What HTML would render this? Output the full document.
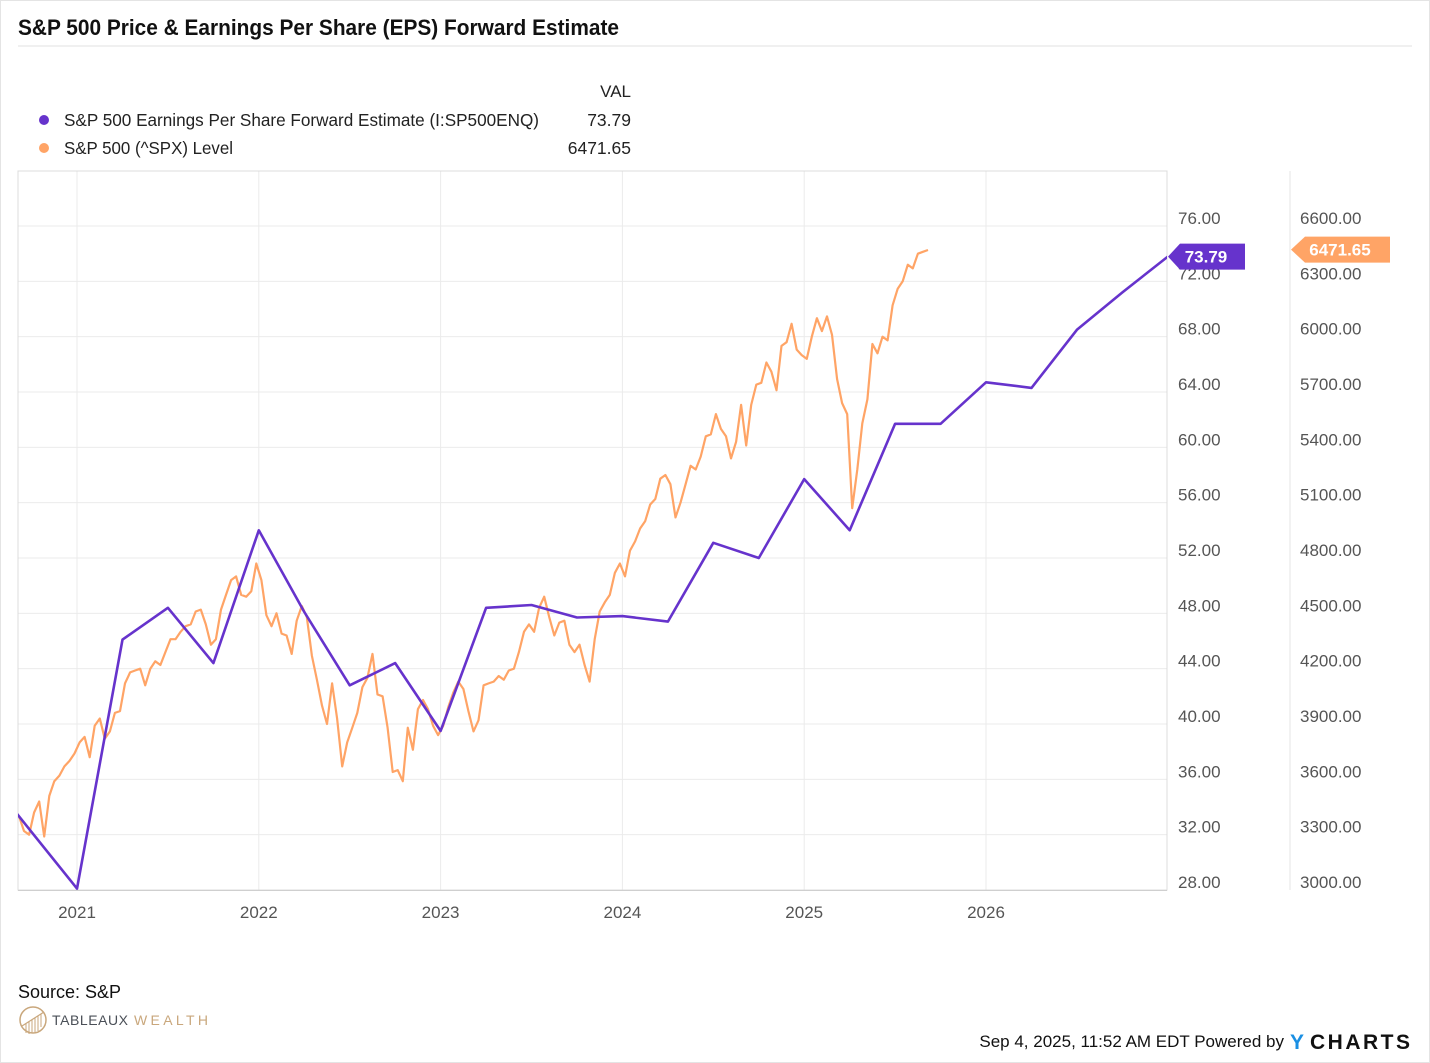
<!DOCTYPE html>
<html><head><meta charset="utf-8">
<style>
html,body{margin:0;padding:0;background:#fff;}
svg{display:block;font-family:"Liberation Sans",sans-serif;}
</style></head>
<body>
<svg id="chart" width="1430" height="1063" viewBox="0 0 1430 1063" xmlns="http://www.w3.org/2000/svg">
<rect x="0.5" y="0.5" width="1429" height="1062" fill="#fff" stroke="#e4e4e4"/>
<text x="18" y="35" font-size="22" font-weight="bold" fill="#111" textLength="601" lengthAdjust="spacingAndGlyphs">S&amp;P 500 Price &amp; Earnings Per Share (EPS) Forward Estimate</text>
<line x1="18" y1="46" x2="1412" y2="46" stroke="#e0e0e0"/>
<g>
<text x="631" y="97" font-size="17" fill="#222" text-anchor="end">VAL</text>
<g>
<circle cx="44" cy="120" r="5" fill="#6633cc"/>
<text x="64" y="126" font-size="17.5" fill="#222" textLength="475" lengthAdjust="spacingAndGlyphs">S&amp;P 500 Earnings Per Share Forward Estimate (I:SP500ENQ)</text>
<text x="631" y="126" font-size="17.5" fill="#222" text-anchor="end">73.79</text>
</g>
<g>
<circle cx="44" cy="148" r="5" fill="#ffa466"/>
<text x="64" y="154" font-size="17.5" fill="#222" textLength="169" lengthAdjust="spacingAndGlyphs">S&amp;P 500 (^SPX) Level</text>
<text x="631" y="154" font-size="17.5" fill="#222" text-anchor="end">6471.65</text>
</g>
</g>
<g id="grid"></g>
<g id="axes"></g>
<defs><clipPath id="plotclip"><rect x="18" y="171" width="1149" height="721"/></clipPath></defs>
<g id="series" clip-path="url(#plotclip)"></g>
<g id="callouts"></g>
<text x="18" y="998" font-size="18" fill="#111">Source: S&amp;P</text>
<g>
<circle cx="33" cy="1020" r="13" fill="none" stroke="#c9a77c" stroke-width="1.5"/>
<path d="M22,1026 L44,1012" stroke="#c9a77c" stroke-width="1.2"/>
<path d="M26,1024 v9 M29,1022 v12 M32,1020 v13 M35,1018 v14 M38,1016 v15 M41,1014 v13" stroke="#c9a77c" stroke-width="1"/>
<text x="52" y="1025" font-size="14" fill="#4a4f57" textLength="76" lengthAdjust="spacing">TABLEAUX</text>
<text x="134" y="1025" font-size="14" fill="#c9a77c" textLength="74" lengthAdjust="spacing">WEALTH</text>
</g>
<text x="1284" y="1047" font-size="17" fill="#111" text-anchor="end">Sep 4, 2025, 11:52 AM EDT Powered by</text>
<g>
<text x="1290" y="1049" font-size="21" font-weight="bold" fill="#1a8fe3" letter-spacing="2">Y</text>
<text x="1310" y="1049" font-size="21" font-weight="bold" fill="#111" letter-spacing="2.5">CHARTS</text>
</g>
</svg>
<script>
const NS="http://www.w3.org/2000/svg";
const yearTicks=[2021,2022,2023,2024,2025,2026];
const epsTicks=[28,32,36,40,44,48,52,56,60,64,68,72,76];
const spxTicks=[3000,3300,3600,3900,4200,4500,4800,5100,5400,5700,6000,6300,6600];
const epsStart=2020.5;
const epsValues=[36.3,32.2,28.1,46.1,48.4,44.4,54.0,48.1,42.8,44.4,39.5,48.4,48.6,47.7,47.8,47.4,53.1,52.0,57.7,54.0,61.7,61.7,64.7,64.3,68.5,71.2,73.79];
const spxStart=2020.667;
const spxValues=[3400,3320,3300,3420,3480,3290,3510,3590,3620,3670,3700,3740,
3800,3830,3720,3890,3930,3820,3860,3960,3970,4120,4180,4190,4200,4110,4200,4240,4220,4290,4360,4360,4400,4430,4440,4510,4520,4440,4330,4360,4520,4600,4680,4700,4600,4590,4620,4770,
4680,4490,4430,4500,4390,4380,4280,4460,4540,4480,4270,4140,4000,3900,4120,3930,3670,3800,3880,3960,4100,4150,4280,4060,4050,3880,3640,3650,3590,3880,3760,3980,4030,3980,3890,3840,
3890,3990,4070,4130,4090,3970,3860,3920,4110,4120,4130,4160,4140,4190,4200,4290,4400,4440,4400,4530,4590,4480,4380,4450,4460,4330,4290,4330,4220,4130,4360,4510,4560,4600,4720,4770,
4700,4840,4890,4960,5000,5090,5120,5230,5250,5200,5020,5100,5200,5300,5280,5350,5460,5470,5580,5500,5460,5340,5430,5630,5410,5630,5740,5750,5860,5810,5710,5950,5970,6070,5930,5900,
5880,6000,6100,6030,6110,6010,5770,5640,5580,5070,5280,5530,5660,5960,5910,6000,5980,6170,6260,6300,6390,6370,6450,6460,6470];
const X0=18,X1=1167,Y0=171,YB=890;
function xS(t){return 77+(t-2021)*181.8;}
function yEps(v){return YB-(v-28)*(664/48);}
function ySpx(v){return YB-(v-3000)*(664/3600);}
function mk(tag,attrs,parent){const e=document.createElementNS(NS,tag);for(const k in attrs)e.setAttribute(k,attrs[k]);parent.appendChild(e);return e;}
const grid=document.getElementById('grid'),axes=document.getElementById('axes'),series=document.getElementById('series'),call=document.getElementById('callouts');
epsTicks.forEach(v=>{
  const y=yEps(v);
  if(v>28){const l=mk('line',{x1:X0,x2:X1,y1:y,y2:y,stroke:'#ebebeb'},grid);
  
  }
  const t=mk('text',{x:1178,y:y-2,'font-size':17,fill:'#555'},axes);t.textContent=v.toFixed(2);
  
  
});
spxTicks.forEach(v=>{
  const t=mk('text',{x:1300,y:ySpx(v)-2,'font-size':17,fill:'#555'},axes);t.textContent=v.toFixed(2);
  
  
});
yearTicks.forEach(yr=>{
  const x=xS(yr);
  const l=mk('line',{x1:x,x2:x,y1:Y0,y2:YB,stroke:'#ebebeb'},grid);
  
  
  const t=mk('text',{x:x,y:918,'font-size':17,fill:'#555','text-anchor':'middle'},axes);t.textContent=yr;
  
  
});
mk('path',{d:`M${X0},${Y0}H${X1}V${YB}H${X0}Z`,fill:'none',stroke:'#dcdcdc'},axes);
mk('line',{x1:1290,x2:1290,y1:Y0,y2:YB,stroke:'#e6e6e6'},axes);
mk('line',{x1:X0,x2:X1,y1:YB+0.5,y2:YB+0.5,stroke:'#cfcfcf'},axes);
let d='';
spxValues.forEach((v,i)=>{const x=xS(spxStart+(i+0.5)/36),y=ySpx(v);d+=(i?'L':'M')+x.toFixed(1)+','+y.toFixed(1);});
const sp=mk('path',{d:d,fill:'none',stroke:'#ffa466','stroke-width':2.2,'stroke-linejoin':'round'},series);


d='';
epsValues.forEach((v,i)=>{const x=xS(epsStart+i*0.25),y=yEps(v);d+=(i?'L':'M')+x.toFixed(1)+','+y.toFixed(1);});
const ep=mk('path',{d:d,fill:'none',stroke:'#6633cc','stroke-width':2.6,'stroke-linejoin':'round'},series);


const ev=epsValues[epsValues.length-1],ey=yEps(ev);
const pc=mk('path',{d:`M1168,${ey} L1180,${ey-13} H1245 V${ey+13} H1180 Z`,fill:'#6633cc'},call);


const pt=mk('text',{x:1206,y:ey+6,'font-size':17,'font-weight':'bold',fill:'#fff','text-anchor':'middle'},call);pt.textContent=ev.toFixed(2);
const sv=6471.65,sy=ySpx(sv);
const oc=mk('path',{d:`M1291,${sy} L1305,${sy-13} H1390 V${sy+13} H1305 Z`,fill:'#ffa466'},call);


const ot=mk('text',{x:1340,y:sy+6,'font-size':17,'font-weight':'bold',fill:'#fff','text-anchor':'middle'},call);ot.textContent=sv.toFixed(2);
</script>
</body></html>
